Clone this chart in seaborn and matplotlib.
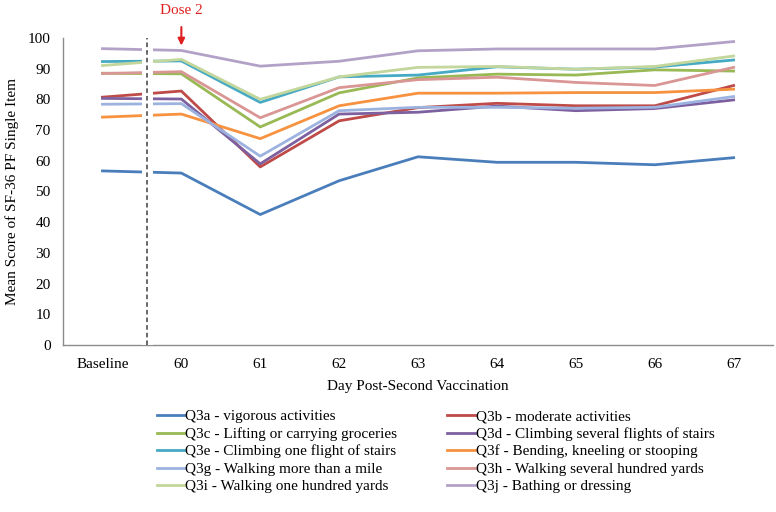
import pandas as pd
import matplotlib
matplotlib.use("Agg")
import matplotlib.pyplot as plt
import seaborn as sns

# dados
dias = ["Baseline", "60", "61", "62", "63", "64", "65", "66", "67"]

itens = [
    "Q3a - vigorous activities",
    "Q3b - moderate activities",
    "Q3c - Lifting or carrying groceries",
    "Q3d - Climbing several flights of stairs",
    "Q3e - Climbing one flight of stairs",
    "Q3f - Bending, kneeling or stooping",
    "Q3g - Walking more than a mile",
    "Q3h - Walking several hundred yards",
    "Q3i - Walking one hundred yards",
    "Q3j - Bathing or dressing",
]

q3a = [56.7, 56.0, 42.5, 53.5, 61.3, 59.5, 59.5, 58.7, 61.0]
q3b = [80.7, 82.7, 58.0, 73.0, 77.3, 78.7, 77.9, 77.9, 84.5]
q3c = [88.5, 88.3, 71.0, 82.1, 87.0, 88.2, 87.9, 89.6, 89.2]
q3d = [80.3, 80.1, 59.0, 75.2, 75.8, 77.8, 76.3, 77.0, 79.8]
q3e = [92.3, 92.5, 79.0, 87.3, 87.9, 90.6, 89.8, 90.5, 92.8]
q3f = [74.2, 75.2, 67.2, 77.9, 82.0, 82.0, 82.2, 82.2, 83.3]
q3g = [78.4, 78.6, 61.5, 76.3, 77.4, 77.4, 77.1, 77.4, 80.9]
q3h = [88.4, 89.0, 74.0, 83.8, 86.4, 87.2, 85.5, 84.5, 90.4]
q3i = [91.0, 93.0, 80.0, 87.3, 90.4, 90.7, 89.8, 90.7, 94.1]
q3j = [96.5, 95.9, 90.8, 92.4, 95.8, 96.4, 96.4, 96.4, 98.8]

series = [q3a, q3b, q3c, q3d, q3e, q3f, q3g, q3h, q3i, q3j]

cores = ["#4A7EBB", "#BE4B48", "#98B954", "#7D60A0", "#46AAC5",
         "#F69240", "#9DB3DF", "#D99694", "#C3D69B", "#B3A2C7"]

registros = []
for item, valores in zip(itens, series):
    for pos, (dia, v) in enumerate(zip(dias, valores)):
        registros.append({"item": item, "pos": pos, "dia": dia, "score": v})
df = pd.DataFrame(registros)

plt.rcParams["font.family"] = ["Liberation Serif", "DejaVu Serif"]
plt.rcParams["font.size"] = 11

fig = plt.figure(figsize=(7.76, 5.12), dpi=100)
ax = fig.add_axes([0.0812, 0.326, 0.915, 0.600])

sns.lineplot(data=df, x="pos", y="score", hue="item", hue_order=itens,
             palette=cores, linewidth=2.0, sort=False, ax=ax, legend=True)

# faixa branca e linha tracejada da dose 2
ax.axvspan(0.50, 0.64, color="white", zorder=3, lw=0)
ax.axvline(0.57, color="#404040", linestyle=(0, (3, 2)), linewidth=1.1, zorder=4)

ax.annotate("Dose 2", xy=(1, 97.5), xytext=(1, 108.8),
            ha="center", va="center", color="#E02020", fontsize=11,
            annotation_clip=False,
            arrowprops=dict(arrowstyle="-|>", color="#E02020", lw=1.5,
                            mutation_scale=10, shrinkA=5, shrinkB=0))

ax.set_xlim(-0.5, len(dias) - 0.5)
ax.set_ylim(0, 100)
ax.set_xticks(range(len(dias)))
ax.set_xticklabels(dias)
ax.set_yticks(range(0, 101, 10))
ax.tick_params(axis="both", length=0, labelsize=11)
ax.tick_params(axis="x", pad=9)
ax.tick_params(axis="y", pad=9)
for lado in ["top", "right"]:
    ax.spines[lado].set_visible(False)
for lado in ["left", "bottom"]:
    ax.spines[lado].set_color("#8C8C8C")
    ax.spines[lado].set_linewidth(1.0)

ax.set_xlabel("Day Post-Second Vaccination", fontsize=11, labelpad=7)
ax.set_ylabel("Mean Score of SF-36 PF Single Item", fontsize=11, labelpad=6)

# legenda em duas colunas, ordem por linha
handles, labels = ax.get_legend_handles_labels()
ordem = [0, 2, 4, 6, 8, 1, 3, 5, 7, 9]
ax.legend([handles[i] for i in ordem], [labels[i] for i in ordem],
          ncol=2, frameon=False, loc="upper left",
          bbox_to_anchor=(0.1235, -0.19), fontsize=11,
          handlelength=1.8, handletextpad=0.05, columnspacing=3.3,
          labelspacing=0.25, borderaxespad=0)

fig.savefig("out.png", dpi=100)
